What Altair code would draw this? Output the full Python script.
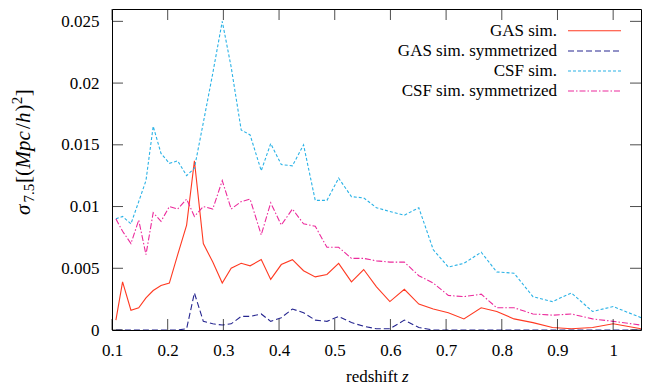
import altair as alt
import pandas as pd

# redshift sampling of the simulation outputs
redshift = [0.107, 0.119, 0.134, 0.148, 0.161, 0.174, 0.188, 0.203, 0.218, 0.234,
            0.248, 0.264, 0.281, 0.298, 0.314, 0.332, 0.348, 0.368, 0.385, 0.404,
            0.424, 0.444, 0.465, 0.486, 0.507, 0.530, 0.552, 0.575, 0.599, 0.625,
            0.651, 0.677, 0.704, 0.732, 0.763, 0.791, 0.822, 0.856, 0.891, 0.925,
            0.963, 1.000, 1.050]

gas_sim = [0.0008, 0.0039, 0.0016, 0.0018, 0.0026, 0.0032, 0.0036, 0.0038, 0.0061, 0.0085,
           0.0137, 0.0070, 0.0055, 0.0038, 0.0050, 0.0054, 0.0052, 0.0057, 0.0041, 0.0053,
           0.0057, 0.0048, 0.0043, 0.0045, 0.0054, 0.0039, 0.0049, 0.0035, 0.0023, 0.0033,
           0.0021, 0.0017, 0.0014, 0.0009, 0.0018, 0.0015, 0.0009, 0.0006, 0.0002, 0.0001,
           0.0002, 0.0005, 0.0001]

gas_sym = [0.0, 0.0, 0.0, 0.0, 0.0, 0.0, 0.0, 0.0, 0.0, 0.0001,
           0.0030, 0.0007, 0.0005, 0.0004, 0.0005, 0.0011, 0.0011, 0.0013, 0.0007, 0.0010,
           0.0017, 0.0014, 0.0008, 0.0007, 0.0011, 0.0006, 0.0003, 0.0001, 0.0001, 0.0008,
           0.0002, 0.0, 0.0, 0.0, 0.0, 0.0, 0.0, 0.0, 0.0, 0.0,
           0.0, 0.0, 0.0]

csf_sim = [0.0090, 0.0092, 0.0086, 0.0104, 0.0121, 0.0165, 0.0143, 0.0135, 0.0137, 0.0125,
           0.0131, 0.0168, 0.0208, 0.0250, 0.0213, 0.0162, 0.0158, 0.0129, 0.0151, 0.0134,
           0.0133, 0.0150, 0.0105, 0.0105, 0.0123, 0.0108, 0.0107, 0.0099, 0.0096, 0.0093,
           0.0099, 0.0065, 0.0051, 0.0054, 0.0063, 0.0047, 0.0046, 0.0027, 0.0023, 0.0030,
           0.0015, 0.0019, 0.0010]

csf_sym = [0.0090, 0.0080, 0.0070, 0.0089, 0.0061, 0.0095, 0.0088, 0.0100, 0.0098, 0.0106,
           0.0092, 0.0100, 0.0098, 0.0121, 0.0098, 0.0104, 0.0106, 0.0077, 0.0103, 0.0085,
           0.0098, 0.0086, 0.0084, 0.0067, 0.0067, 0.0058, 0.0058, 0.0056, 0.0055, 0.0055,
           0.0044, 0.0038, 0.0028, 0.0027, 0.0029, 0.0018, 0.0018, 0.0013, 0.0012, 0.0013,
           0.0009, 0.0007, 0.0004]

series_names = ["GAS sim.", "GAS sim. symmetrized", "CSF sim.", "CSF sim. symmetrized"]
series_values = [gas_sim, gas_sym, csf_sim, csf_sym]
series_colors = ["#ff3a22", "#262690", "#2ab2e6", "#ec2a9c"]
series_dash = [None, [6, 3], [3, 2], [6, 2, 1.5, 2]]

x_ticks = [0.1, 0.2, 0.3, 0.4, 0.5, 0.6, 0.7, 0.8, 0.9, 1.0]
y_ticks = [0.0, 0.005, 0.01, 0.015, 0.02, 0.025]

W, H = 529, 321
TICK = 11
FONT = "Liberation Serif, Times New Roman, Times, serif"
FS = 17

x_scale = alt.Scale(domain=[0.1, 1.05], nice=False, zero=False)
y_scale = alt.Scale(domain=[0.0, 0.026], nice=False, zero=False)

rows = []
for name, vals in zip(series_names, series_values):
    for z, v in zip(redshift, vals):
        rows.append({"series": name, "z": z, "sigma": v})
df = pd.DataFrame(rows)

x_axis = alt.Axis(values=x_ticks, format="~g", ticks=False, domain=False, grid=False,
                  labelFont=FONT, labelFontSize=FS, labelColor="black",
                  labelPadding=12, labelFlush=False, labelOverlap=False, title=None)
y_axis = alt.Axis(values=y_ticks, format="~g", ticks=False, domain=False, grid=False,
                  labelFont=FONT, labelFontSize=FS, labelColor="black",
                  labelPadding=13, labelFlush=False, labelOverlap=False, title=None)

layers = []
for name, color, dash in zip(series_names, series_colors, series_dash):
    mk = dict(color=color, strokeWidth=1.1, clip=True)
    if dash:
        mk["strokeDash"] = dash
    layers.append(
        alt.Chart(df).transform_filter(alt.datum.series == name).mark_line(**mk).encode(
            x=alt.X("z:Q", scale=x_scale, axis=x_axis),
            y=alt.Y("sigma:Q", scale=y_scale, axis=y_axis),
        )
    )

# inward ticks on all four sides of the frame
xt = pd.DataFrame({"z": x_ticks})
yt = pd.DataFrame({"sigma": y_ticks})
for ypos in (H - TICK / 2, TICK / 2):
    layers.append(
        alt.Chart(xt).mark_tick(orient="vertical", size=TICK, thickness=1, color="black")
        .encode(x=alt.X("z:Q", scale=x_scale, axis=x_axis), y=alt.value(ypos))
    )
for xpos in (TICK / 2, W - TICK / 2):
    layers.append(
        alt.Chart(yt).mark_tick(orient="horizontal", size=TICK, thickness=1, color="black")
        .encode(y=alt.Y("sigma:Q", scale=y_scale, axis=y_axis), x=alt.value(xpos))
    )

# key in the upper right corner: label, then line sample
leg_text_x = 445
leg_line_x0, leg_line_x1 = 456, 509
leg_rows = [21.7, 42, 62, 82]
for name, color, dash, ry in zip(series_names, series_colors, series_dash, leg_rows):
    layers.append(
        alt.Chart(pd.DataFrame({"t": [name]})).mark_text(
            font=FONT, fontSize=FS, align="right", baseline="middle", color="black"
        ).encode(text="t:N", x=alt.value(leg_text_x), y=alt.value(ry))
    )
    mk = dict(color=color, strokeWidth=1.1)
    if dash:
        mk["strokeDash"] = dash
    layers.append(
        alt.Chart(pd.DataFrame({"t": [name]})).mark_rule(**mk).encode(
            x=alt.value(leg_line_x0), x2=alt.value(leg_line_x1), y=alt.value(ry)
        )
    )

# x-axis title: "redshift z"
layers.append(
    alt.Chart(pd.DataFrame({"t": ["redshift"]})).mark_text(
        font=FONT, fontSize=FS, align="left", baseline="alphabetic", color="black"
    ).encode(text="t:N", x=alt.value(234), y=alt.value(373))
)
layers.append(
    alt.Chart(pd.DataFrame({"t": ["z"]})).mark_text(
        font=FONT, fontSize=FS, fontStyle="italic", align="left", baseline="alphabetic", color="black"
    ).encode(text="t:N", x=alt.value(290), y=alt.value(373))
)

# y-axis title: sigma_7.5 [(Mpc/h)^2], rotated, assembled piece by piece
ytitle_pieces = [
    # text, size, italic, baseline shift, advance
    ("σ", 21, True, 0, 12.5),
    ("7.5", 15, False, 4, 19.5),
    ("[(", 21, False, 0, 14.5),
    ("Mpc", 21, True, 0, 39.5),
    ("/", 21, False, 0, 6.0),
    ("h", 21, True, 0, 11.5),
    (")", 21, False, 0, 7.2),
    ("2", 15, False, -8, 8.0),
    ("]", 21, False, 0, 7.0),
]
base_x = -82
pos_y = 206
for txt, size, italic, shift, adv in ytitle_pieces:
    mk = dict(font=FONT, fontSize=size, align="left", baseline="alphabetic",
              angle=270, color="black")
    if italic:
        mk["fontStyle"] = "italic"
    layers.append(
        alt.Chart(pd.DataFrame({"t": [txt]})).mark_text(**mk).encode(
            text="t:N", x=alt.value(base_x + shift), y=alt.value(pos_y)
        )
    )
    pos_y -= adv

chart = alt.layer(*layers).properties(
    width=W, height=H,
    autosize=alt.AutoSizeParams(type="none"),
    padding={"left": 112, "top": 9, "right": 18, "bottom": 58},
).configure_view(stroke="black", strokeWidth=1)

chart.save("out.html", embed_options={"renderer": "svg", "actions": False})
